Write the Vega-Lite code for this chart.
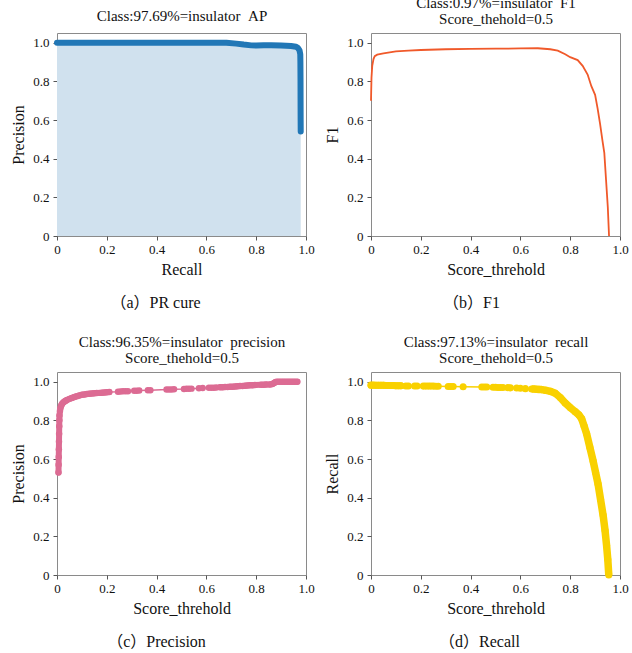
{
  "$schema": "https://vega.github.io/schema/vega-lite/v6.json",
  "padding": {"left": 10, "top": -6, "right": 4, "bottom": 2},
  "background": "white",
  "datasets": {
    "pr": [
      {"recall": 0, "precision": 1.0}, {"recall": 0.1, "precision": 1.0}, {"recall": 0.2, "precision": 1.0},
      {"recall": 0.3, "precision": 1.0}, {"recall": 0.4, "precision": 1.0}, {"recall": 0.5, "precision": 1.0},
      {"recall": 0.6, "precision": 1.0}, {"recall": 0.68, "precision": 1.0}, {"recall": 0.72, "precision": 0.995},
      {"recall": 0.75, "precision": 0.99}, {"recall": 0.78, "precision": 0.986}, {"recall": 0.8, "precision": 0.985},
      {"recall": 0.83, "precision": 0.987}, {"recall": 0.86, "precision": 0.987}, {"recall": 0.9, "precision": 0.985},
      {"recall": 0.94, "precision": 0.983}, {"recall": 0.96, "precision": 0.979}, {"recall": 0.968, "precision": 0.972},
      {"recall": 0.974, "precision": 0.96}, {"recall": 0.977, "precision": 0.94}, {"recall": 0.9775, "precision": 0.9},
      {"recall": 0.978, "precision": 0.8}, {"recall": 0.9782, "precision": 0.7}, {"recall": 0.9785, "precision": 0.6},
      {"recall": 0.9788, "precision": 0.54}
    ],
    "f1": [
      {"t": 0, "f1": 0.70}, {"t": 0.002, "f1": 0.82}, {"t": 0.005, "f1": 0.88}, {"t": 0.01, "f1": 0.915},
      {"t": 0.015, "f1": 0.93}, {"t": 0.025, "f1": 0.938}, {"t": 0.05, "f1": 0.945}, {"t": 0.1, "f1": 0.955},
      {"t": 0.15, "f1": 0.959}, {"t": 0.2, "f1": 0.962}, {"t": 0.3, "f1": 0.966}, {"t": 0.4, "f1": 0.968},
      {"t": 0.5, "f1": 0.969}, {"t": 0.6, "f1": 0.97}, {"t": 0.67, "f1": 0.971}, {"t": 0.72, "f1": 0.966},
      {"t": 0.75, "f1": 0.959}, {"t": 0.78, "f1": 0.94}, {"t": 0.8, "f1": 0.925}, {"t": 0.83, "f1": 0.91},
      {"t": 0.85, "f1": 0.88}, {"t": 0.87, "f1": 0.835}, {"t": 0.885, "f1": 0.775}, {"t": 0.9, "f1": 0.73},
      {"t": 0.91, "f1": 0.66}, {"t": 0.92, "f1": 0.58}, {"t": 0.93, "f1": 0.49}, {"t": 0.937, "f1": 0.43},
      {"t": 0.944, "f1": 0.29}, {"t": 0.951, "f1": 0.15}, {"t": 0.956, "f1": 0.0}
    ],
    "prec": [
      {"t": 0.006, "p": 0.53}, {"t": 0.0065, "p": 0.57}, {"t": 0.007, "p": 0.61}, {"t": 0.0075, "p": 0.65},
      {"t": 0.008, "p": 0.69}, {"t": 0.0085, "p": 0.73}, {"t": 0.009, "p": 0.77}, {"t": 0.0095, "p": 0.80},
      {"t": 0.010, "p": 0.825}, {"t": 0.012, "p": 0.85}, {"t": 0.014, "p": 0.865}, {"t": 0.017, "p": 0.877},
      {"t": 0.02, "p": 0.885}, {"t": 0.025, "p": 0.892}, {"t": 0.03, "p": 0.897}, {"t": 0.035, "p": 0.901},
      {"t": 0.04, "p": 0.905}, {"t": 0.05, "p": 0.911}, {"t": 0.06, "p": 0.916}, {"t": 0.07, "p": 0.921},
      {"t": 0.08, "p": 0.925}, {"t": 0.09, "p": 0.929}, {"t": 0.10, "p": 0.932}, {"t": 0.11, "p": 0.934},
      {"t": 0.12, "p": 0.936}, {"t": 0.13, "p": 0.938}, {"t": 0.14, "p": 0.939}, {"t": 0.15, "p": 0.940},
      {"t": 0.16, "p": 0.941}, {"t": 0.17, "p": 0.942}, {"t": 0.18, "p": 0.943}, {"t": 0.19, "p": 0.944},
      {"t": 0.20, "p": 0.945}, {"t": 0.21, "p": 0.946},
      {"t": 0.245, "p": 0.948}, {"t": 0.255, "p": 0.949}, {"t": 0.265, "p": 0.950}, {"t": 0.275, "p": 0.950},
      {"t": 0.285, "p": 0.951}, {"t": 0.31, "p": 0.953}, {"t": 0.32, "p": 0.953}, {"t": 0.33, "p": 0.954},
      {"t": 0.365, "p": 0.956}, {"t": 0.375, "p": 0.956}, {"t": 0.44, "p": 0.959}, {"t": 0.45, "p": 0.960},
      {"t": 0.46, "p": 0.960}, {"t": 0.47, "p": 0.961}, {"t": 0.51, "p": 0.962}, {"t": 0.52, "p": 0.963},
      {"t": 0.53, "p": 0.963}, {"t": 0.54, "p": 0.964}, {"t": 0.57, "p": 0.966}, {"t": 0.585, "p": 0.967},
      {"t": 0.61, "p": 0.968}, {"t": 0.62, "p": 0.969}, {"t": 0.63, "p": 0.969}, {"t": 0.64, "p": 0.970},
      {"t": 0.655, "p": 0.971}, {"t": 0.665, "p": 0.971}, {"t": 0.675, "p": 0.972}, {"t": 0.685, "p": 0.973},
      {"t": 0.695, "p": 0.974}, {"t": 0.705, "p": 0.974}, {"t": 0.715, "p": 0.975}, {"t": 0.725, "p": 0.976},
      {"t": 0.735, "p": 0.977}, {"t": 0.745, "p": 0.978}, {"t": 0.755, "p": 0.979}, {"t": 0.765, "p": 0.980},
      {"t": 0.775, "p": 0.981}, {"t": 0.785, "p": 0.982}, {"t": 0.795, "p": 0.983}, {"t": 0.82, "p": 0.984},
      {"t": 0.83, "p": 0.984}, {"t": 0.84, "p": 0.985}, {"t": 0.855, "p": 0.985}, {"t": 0.865, "p": 0.988},
      {"t": 0.872, "p": 0.993}, {"t": 0.878, "p": 0.998}, {"t": 0.885, "p": 1.0}, {"t": 0.895, "p": 1.0},
      {"t": 0.905, "p": 1.0}, {"t": 0.915, "p": 1.0}, {"t": 0.925, "p": 1.0}, {"t": 0.935, "p": 1.0},
      {"t": 0.945, "p": 1.0}, {"t": 0.955, "p": 1.0}, {"t": 0.965, "p": 1.0}
    ],
    "rec": [
      {"t": 0, "r": 0.982}, {"t": 0.01, "r": 0.982}, {"t": 0.02, "r": 0.981}, {"t": 0.03, "r": 0.981},
      {"t": 0.04, "r": 0.981}, {"t": 0.05, "r": 0.981}, {"t": 0.06, "r": 0.980}, {"t": 0.07, "r": 0.980},
      {"t": 0.08, "r": 0.980}, {"t": 0.09, "r": 0.980}, {"t": 0.10, "r": 0.979}, {"t": 0.11, "r": 0.979},
      {"t": 0.12, "r": 0.979}, {"t": 0.14, "r": 0.978}, {"t": 0.15, "r": 0.978}, {"t": 0.175, "r": 0.978},
      {"t": 0.185, "r": 0.978}, {"t": 0.21, "r": 0.977}, {"t": 0.22, "r": 0.977}, {"t": 0.23, "r": 0.977},
      {"t": 0.24, "r": 0.977}, {"t": 0.25, "r": 0.977}, {"t": 0.26, "r": 0.976}, {"t": 0.27, "r": 0.976},
      {"t": 0.31, "r": 0.975}, {"t": 0.32, "r": 0.975}, {"t": 0.33, "r": 0.975}, {"t": 0.37, "r": 0.974},
      {"t": 0.445, "r": 0.972}, {"t": 0.455, "r": 0.972}, {"t": 0.465, "r": 0.972}, {"t": 0.49, "r": 0.971},
      {"t": 0.50, "r": 0.971}, {"t": 0.51, "r": 0.970}, {"t": 0.52, "r": 0.970}, {"t": 0.53, "r": 0.970},
      {"t": 0.55, "r": 0.969}, {"t": 0.56, "r": 0.968}, {"t": 0.585, "r": 0.967}, {"t": 0.6, "r": 0.966},
      {"t": 0.62, "r": 0.964}, {"t": 0.645, "r": 0.962}, {"t": 0.655, "r": 0.962}, {"t": 0.665, "r": 0.961},
      {"t": 0.675, "r": 0.960}, {"t": 0.685, "r": 0.959}, {"t": 0.70, "r": 0.956}, {"t": 0.72, "r": 0.950},
      {"t": 0.74, "r": 0.940}, {"t": 0.76, "r": 0.918}, {"t": 0.78, "r": 0.890}, {"t": 0.80, "r": 0.866},
      {"t": 0.82, "r": 0.845}, {"t": 0.835, "r": 0.828}, {"t": 0.846, "r": 0.808}, {"t": 0.856, "r": 0.770},
      {"t": 0.866, "r": 0.730}, {"t": 0.879, "r": 0.660}, {"t": 0.892, "r": 0.590}, {"t": 0.902, "r": 0.530},
      {"t": 0.912, "r": 0.470}, {"t": 0.922, "r": 0.390}, {"t": 0.932, "r": 0.310}, {"t": 0.940, "r": 0.230},
      {"t": 0.946, "r": 0.154}, {"t": 0.951, "r": 0.080}, {"t": 0.955, "r": 0.0}
    ]
  },
  "columns": 2,
  "bounds": "flush",
  "spacing": {"row": 136, "column": 65},
  "concat": [
    {
      "width": 249, "height": 203,
      "data": {"name": "pr"},
      "title": {"text": "（a）PR cure", "orient": "bottom", "dx": -26, "offset": 18},
      "encoding": {
        "y": {"field": "precision", "type": "quantitative", "scale": {"domain": [0, 1.05], "nice": false},
              "axis": {"title": "Precision", "values": [0, 0.2, 0.4, 0.6, 0.8, 1], "labelFont": "Liberation Serif", "labelExpr": "datum.value == 0 ? '0' : format(datum.value, '.1f')"}}
      },
      "layer": [
        {"mark": {"type": "area", "color": "#d0e1ee"},
         "encoding": {"x": {"field": "recall", "type": "quantitative", "scale": {"domain": [0, 1], "nice": false}, "axis": null}}},
        {"mark": {"type": "line", "color": "#2177b6", "strokeWidth": 6, "strokeCap": "round", "strokeJoin": "round"},
         "encoding": {"x": {"field": "recall", "type": "quantitative",
                            "axis": {"title": "Recall", "orient": "bottom", "values": [0, 0.2, 0.4, 0.6, 0.8, 1], "labelFont": "Liberation Serif", "labelExpr": "datum.value == 0 ? '0' : format(datum.value, '.1f')"}}}},
        {"mark": {"type": "point", "opacity": 0},
         "encoding": {"x": {"field": "recall", "type": "quantitative",
                            "axis": {"orient": "top", "title": "Class:97.69%=insulator\u00a0\u00a0AP", "labels": false, "ticks": false, "domain": false, "titlePadding": 10, "titleFontSize": 15, "titleLineHeight": 16}}}}
      ],
      "resolve": {"axis": {"x": "independent"}}
    },
    {
      "width": 249, "height": 203,
      "data": {"name": "f1"},
      "title": {"text": "（b）F1", "orient": "bottom", "dx": -24, "offset": 18},
      "encoding": {
        "y": {"field": "f1", "type": "quantitative", "scale": {"domain": [0, 1.05], "nice": false},
              "axis": {"title": "F1", "values": [0, 0.2, 0.4, 0.6, 0.8, 1], "labelFont": "Liberation Serif", "labelExpr": "datum.value == 0 ? '0' : format(datum.value, '.1f')"}}
      },
      "layer": [
        {"mark": {"type": "line", "color": "#f0592a", "strokeWidth": 1.8},
         "encoding": {"x": {"field": "t", "type": "quantitative", "scale": {"domain": [0, 1], "nice": false},
                            "axis": {"title": "Score_threhold", "orient": "bottom", "values": [0, 0.2, 0.4, 0.6, 0.8, 1], "labelFont": "Liberation Serif", "labelExpr": "datum.value == 0 ? '0' : format(datum.value, '.1f')"}}}},
        {"mark": {"type": "point", "opacity": 0},
         "encoding": {"x": {"field": "t", "type": "quantitative",
                            "axis": {"orient": "top", "title": ["Class:0.97%=insulator\u00a0\u00a0F1", "Score_thehold=0.5"], "labels": false, "ticks": false, "domain": false, "titlePadding": 7, "titleFontSize": 15, "titleLineHeight": 16}}}}
      ],
      "resolve": {"axis": {"x": "independent"}}
    },
    {
      "width": 249, "height": 203,
      "data": {"name": "prec"},
      "title": {"text": "（c）Precision", "orient": "bottom", "dx": -25, "offset": 18},
      "encoding": {
        "y": {"field": "p", "type": "quantitative", "scale": {"domain": [0, 1.05], "nice": false},
              "axis": {"title": "Precision", "values": [0, 0.2, 0.4, 0.6, 0.8, 1], "labelFont": "Liberation Serif", "labelExpr": "datum.value == 0 ? '0' : format(datum.value, '.1f')"}}
      },
      "layer": [
        {"mark": {"type": "line", "color": "#dc6b93", "strokeWidth": 1.5},
         "encoding": {"x": {"field": "t", "type": "quantitative", "scale": {"domain": [0, 1], "nice": false},
                            "axis": {"title": "Score_threhold", "orient": "bottom", "values": [0, 0.2, 0.4, 0.6, 0.8, 1], "labelFont": "Liberation Serif", "labelExpr": "datum.value == 0 ? '0' : format(datum.value, '.1f')"}}}},
        {"mark": {"type": "point", "filled": true, "shape": "circle", "size": 42, "opacity": 1, "color": "#dc6b93"},
         "encoding": {"x": {"field": "t", "type": "quantitative", "axis": null}}},
        {"transform": [{"filter": "datum.t <= 0.215"}],
         "mark": {"type": "line", "color": "#dc6b93", "strokeWidth": 6, "strokeCap": "round", "strokeJoin": "round"},
         "encoding": {"x": {"field": "t", "type": "quantitative", "axis": null}}},
        {"transform": [{"filter": "datum.t >= 0.65"}],
         "mark": {"type": "line", "color": "#dc6b93", "strokeWidth": 6, "strokeCap": "round", "strokeJoin": "round"},
         "encoding": {"x": {"field": "t", "type": "quantitative", "axis": null}}},
        {"mark": {"type": "point", "opacity": 0},
         "encoding": {"x": {"field": "t", "type": "quantitative",
                            "axis": {"orient": "top", "title": ["Class:96.35%=insulator\u00a0\u00a0precision", "Score_thehold=0.5"], "labels": false, "ticks": false, "domain": false, "titlePadding": 7, "titleFontSize": 15, "titleLineHeight": 16}}}}
      ],
      "resolve": {"axis": {"x": "independent"}}
    },
    {
      "width": 249, "height": 203,
      "data": {"name": "rec"},
      "title": {"text": "（d）Recall", "orient": "bottom", "dx": -16, "offset": 18},
      "encoding": {
        "y": {"field": "r", "type": "quantitative", "scale": {"domain": [0, 1.05], "nice": false},
              "axis": {"title": "Recall", "values": [0, 0.2, 0.4, 0.6, 0.8, 1], "labelFont": "Liberation Serif", "labelExpr": "datum.value == 0 ? '0' : format(datum.value, '.1f')"}}
      },
      "layer": [
        {"mark": {"type": "line", "color": "#f9d100", "strokeWidth": 1.5},
         "encoding": {"x": {"field": "t", "type": "quantitative", "scale": {"domain": [0, 1], "nice": false},
                            "axis": {"title": "Score_threhold", "orient": "bottom", "values": [0, 0.2, 0.4, 0.6, 0.8, 1], "labelFont": "Liberation Serif", "labelExpr": "datum.value == 0 ? '0' : format(datum.value, '.1f')"}}}},
        {"mark": {"type": "point", "filled": true, "shape": "circle", "size": 50, "opacity": 1, "color": "#f9d100"},
         "encoding": {"x": {"field": "t", "type": "quantitative", "axis": null}}},
        {"transform": [{"filter": "datum.t <= 0.125"}],
         "mark": {"type": "line", "color": "#f9d100", "strokeWidth": 7, "strokeCap": "round", "strokeJoin": "round"},
         "encoding": {"x": {"field": "t", "type": "quantitative", "axis": null}}},
        {"transform": [{"filter": "datum.t >= 0.64"}],
         "mark": {"type": "line", "color": "#f9d100", "strokeWidth": 7.5, "strokeCap": "butt", "strokeJoin": "round"},
         "encoding": {"x": {"field": "t", "type": "quantitative", "axis": null}}},
        {"mark": {"type": "point", "opacity": 0},
         "encoding": {"x": {"field": "t", "type": "quantitative",
                            "axis": {"orient": "top", "title": ["Class:97.13%=insulator\u00a0\u00a0recall", "Score_thehold=0.5"], "labels": false, "ticks": false, "domain": false, "titlePadding": 7, "titleFontSize": 15, "titleLineHeight": 16}}}}
      ],
      "resolve": {"axis": {"x": "independent"}}
    }
  ],
  "config": {
    "font": "Liberation Serif",
    "view": {"stroke": "#8a8a8a", "strokeWidth": 1},
    "axis": {
      "domain": false, "grid": false, "tickColor": "#555", "tickSize": 4,
      "labelFont": "Liberation Serif", "labelFontSize": 13, "labelColor": "#111", "labelFlush": false,
      "titleFont": "Liberation Serif", "titleFontSize": 16, "titleFontWeight": "normal", "titleColor": "#111"
    },
    "axisX": {"labelPadding": 3, "titlePadding": 5},
    "axisY": {"labelPadding": 4, "titlePadding": 6},
    "title": {"font": "Liberation Serif, Noto Sans CJK SC", "fontSize": 16, "fontWeight": "normal", "color": "#111"}
  }
}
